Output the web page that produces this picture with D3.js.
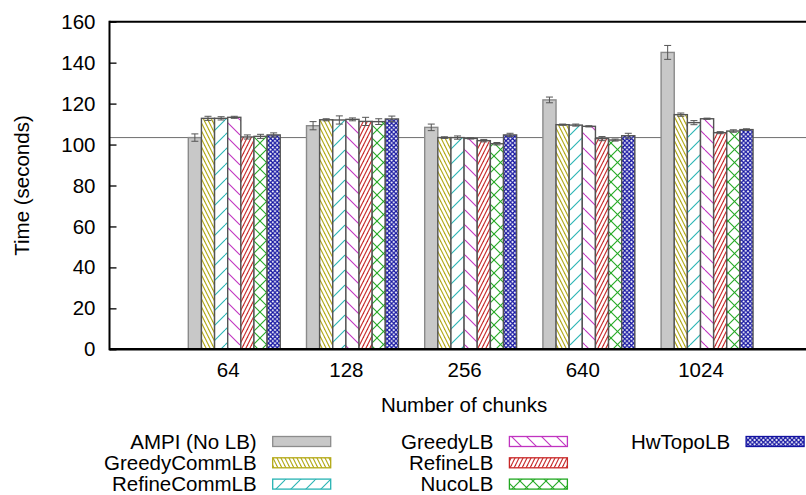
<!DOCTYPE html>
<html>
<head>
<meta charset="utf-8">
<script src="https://cdn.jsdelivr.net/npm/d3@7/dist/d3.min.js"></script>
<style>
  html, body { margin: 0; padding: 0; background: #fff; }
  svg { display: block; font-family: "Liberation Sans", Arial, Helvetica, sans-serif; }
</style>
</head>
<body>
<svg id="chart" width="806" height="495"></svg>
<script>
// ---------------- data ----------------
const categories = ["64", "128", "256", "640", "1024"];
const seriesNames = ["AMPI (No LB)", "GreedyCommLB", "RefineCommLB", "GreedyLB", "RefineLB", "NucoLB", "HwTopoLB"];
const ampiValues       = [103.4, 109.2, 108.4, 121.8, 145.0];
const greedyCommValues = [112.8, 112.1, 103.4, 109.7, 114.6];
const refineCommValues = [112.8, 112.0, 103.4, 109.5, 110.7];
const greedyValues     = [113.3, 112.3, 103.0, 108.9, 112.6];
const refineValues     = [103.7, 111.3, 101.9, 102.9, 105.8];
const nucoValues       = [104.0, 111.2, 100.4, 102.2, 106.6];
const hwTopoValues     = [104.7, 112.5, 104.7, 104.3, 107.3];
const ampiErrors       = [1.8, 2.0, 1.6, 1.4, 3.4];
const greedyCommErrors = [1.0, 0.5, 0.4, 0.3, 0.8];
const refineCommErrors = [0.8, 2.0, 0.8, 0.5, 1.0];
const greedyErrors     = [0.5, 0.7, 0.3, 0.3, 0.3];
const refineErrors     = [1.0, 2.0, 0.6, 1.0, 0.5];
const nucoErrors       = [1.0, 1.4, 0.6, 0.5, 0.6];
const hwTopoErrors     = [1.0, 1.4, 0.8, 1.2, 0.4];
const referenceLine = 103.4;
const yTicks = [0, 20, 40, 60, 80, 100, 120, 140, 160];

const allValues = [ampiValues, greedyCommValues, refineCommValues, greedyValues, refineValues, nucoValues, hwTopoValues];
const allErrors = [ampiErrors, greedyCommErrors, refineCommErrors, greedyErrors, refineErrors, nucoErrors, hwTopoErrors];

// ---------------- style ----------------
const colors = ["#8c8c8c", "#b3a815", "#26b3b3", "#c033c0", "#c82828", "#22a822", "#1212a0"];
const FONT = 20.5;

const svg = d3.select("#chart");
const pL = 109.5, pR = 818.7, pT = 21.7, pB = 349.3;
const nS = seriesNames.length, gap = 2, unit = nS + gap;

const x = d3.scaleLinear().domain([-1, 5]).range([pL, pR]);
const y = d3.scaleLinear().domain([0, 160]).range([pB, pT]);

// ---------------- patterns ----------------
const defs = svg.append("defs");
function linePattern(id, w, h, color, lines, sw) {
  const p = defs.append("pattern").attr("id", id).attr("patternUnits", "userSpaceOnUse")
    .attr("width", w).attr("height", h);
  p.append("rect").attr("width", w).attr("height", h).attr("fill", "#fff");
  lines.forEach(l => p.append("line").attr("x1", l[0]).attr("y1", l[1]).attr("x2", l[2]).attr("y2", l[3])
    .attr("stroke", color).attr("stroke-width", sw));
}
// dense "\\"
linePattern("p1", 4, 8, colors[1], [[-1, -2, 5, 10], [3, -2, 9, 10], [-5, -2, 1, 10]], 1.1);
// wide "/"
linePattern("p2", 15, 15, colors[2], [[0, 15, 15, 0], [-15, 15, 0, 0], [15, 15, 30, 0]], 1.1);
// wide "\\"
linePattern("p3", 15, 15, colors[3], [[0, 0, 15, 15], [-15, 0, 0, 15], [15, 0, 30, 15]], 1.1);
// dense "/"
linePattern("p4", 4, 8, colors[4], [[-1, 10, 5, -2], [3, 10, 9, -2], [-5, 10, 1, -2]], 1.1);
// big crosshatch
linePattern("p5", 13, 13, colors[5], [[0, 0, 13, 13], [0, 13, 13, 0]], 1.1);
// fine crosshatch
linePattern("p6", 4.4, 4.4, colors[6], [[0, 0, 4.4, 4.4], [0, 4.4, 4.4, 0]], 1.2);
const fills = ["#c8c8c8", "url(#p1)", "url(#p2)", "url(#p3)", "url(#p4)", "url(#p5)", "url(#p6)"];
const barStroke = (j) => j === 0 ? "#8a8a8a" : "#545454";

// ---------------- reference line (behind bars) ----------------
svg.append("line").attr("x1", pL).attr("x2", 806).attr("y1", y(referenceLine)).attr("y2", y(referenceLine))
  .attr("stroke", "#6e6e6e").attr("stroke-width", 1);

// ---------------- bars ----------------
const barData = [];
categories.forEach((c, i) => {
  allValues.forEach((vals, j) => {
    barData.push({ i, j, v: vals[i], e: allErrors[j][i] });
  });
});
const bx0 = d => x(d.i + (d.j - 3) / unit);
const bx1 = d => x(d.i + (d.j - 2) / unit);

svg.append("g").selectAll("rect").data(barData).join("rect")
  .attr("x", bx0).attr("width", d => bx1(d) - bx0(d))
  .attr("y", d => y(d.v)).attr("height", d => y(0) - y(d.v))
  .attr("fill", d => fills[d.j]).attr("stroke", d => barStroke(d.j)).attr("stroke-width", 1.4);

// ---------------- error bars ----------------
const eg = svg.append("g").attr("stroke", "#555").attr("stroke-width", 1);
barData.forEach(d => {
  const cx = (bx0(d) + bx1(d)) / 2;
  eg.append("line").attr("x1", cx).attr("x2", cx).attr("y1", y(d.v + d.e)).attr("y2", y(d.v - d.e));
  eg.append("line").attr("x1", cx - 3.5).attr("x2", cx + 3.5).attr("y1", y(d.v + d.e)).attr("y2", y(d.v + d.e));
  eg.append("line").attr("x1", cx - 3.5).attr("x2", cx + 3.5).attr("y1", y(d.v - d.e)).attr("y2", y(d.v - d.e));
});

// ---------------- axes ----------------
const yAxis = d3.axisLeft(y).tickValues(yTicks).tickSize(-7).tickPadding(14).tickFormat(d3.format("d"));
const gy = svg.append("g").attr("transform", `translate(${pL},0)`).call(yAxis);
gy.select(".domain").remove();
gy.selectAll(".tick line").attr("stroke", "#000").attr("stroke-width", 1.3);
gy.selectAll(".tick text").attr("font-size", FONT).attr("fill", "#000").attr("font-family", null);

const xAxis = d3.axisBottom(x).tickValues(d3.range(categories.length)).tickSize(0).tickPadding(13)
  .tickFormat(i => categories[i]);
const gx = svg.append("g").attr("transform", `translate(0,${pB})`).call(xAxis);
gx.select(".domain").remove();
gx.selectAll(".tick text").attr("font-size", FONT).attr("fill", "#000").attr("font-family", null);

// frame
svg.append("line").attr("x1", pL).attr("x2", pR).attr("y1", pB).attr("y2", pB).attr("stroke", "#000").attr("stroke-width", 2.5);
svg.append("line").attr("x1", pL).attr("x2", pR).attr("y1", pT).attr("y2", pT).attr("stroke", "#000").attr("stroke-width", 2);
svg.append("line").attr("x1", pL).attr("x2", pL).attr("y1", pT - 1).attr("y2", pB + 1).attr("stroke", "#000").attr("stroke-width", 2);

// axis titles
svg.append("text").attr("transform", `translate(29,${(pT + pB) / 2}) rotate(-90)`)
  .attr("text-anchor", "middle").attr("font-size", FONT).text("Time (seconds)");
svg.append("text").attr("x", (x(0) + x(4)) / 2).attr("y", 412)
  .attr("text-anchor", "middle").attr("font-size", FONT).text("Number of chunks");

// ---------------- legend ----------------
const lg = svg.append("g");
seriesNames.forEach((name, j) => {
  const col = Math.floor(j / 3), row = j % 3;
  const bxl = 272.7 + col * 236.7;
  const cy = 441.5 + row * 21.3;
  lg.append("text").attr("x", bxl - 16).attr("y", cy).attr("dy", "0.35em")
    .attr("text-anchor", "end").attr("font-size", FONT).text(name);
  lg.append("rect").attr("x", bxl).attr("y", cy - 5).attr("width", 58).attr("height", 10)
    .attr("fill", fills[j]).attr("stroke", colors[j]).attr("stroke-width", 1.3);
});
</script>
</body>
</html>
